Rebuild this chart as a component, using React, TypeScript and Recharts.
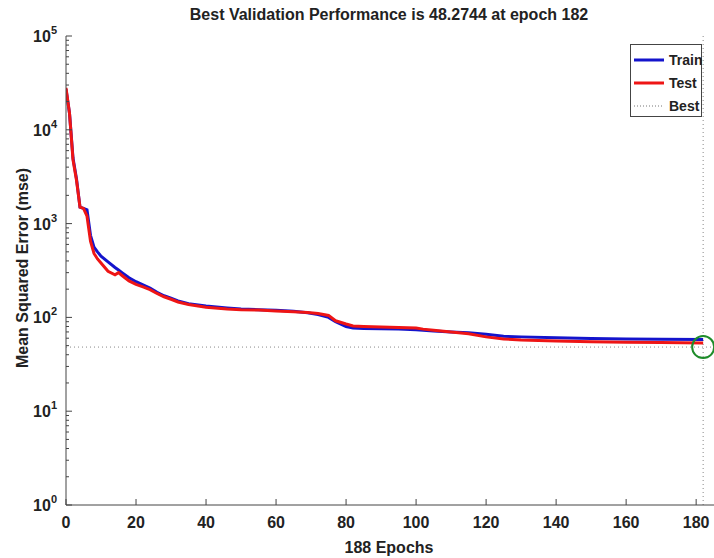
import {
  LineChart,
  Line,
  XAxis,
  YAxis,
  ReferenceLine,
  ReferenceDot,
  Label,
} from "recharts";

const epochs = [
  0, 1, 2, 3, 4, 5, 6, 7, 8, 9, 10, 12, 14, 15, 16, 18, 20, 22, 24, 26, 28, 30,
  32, 35, 40, 46, 50, 55, 60, 65, 69, 72, 75, 77, 80, 82, 85, 90, 95, 100, 102,
  105, 110, 115, 120, 125, 130, 140, 150, 160, 170, 182,
];

const trainMse = [
  27000, 15000, 5000, 3000, 1500, 1450, 1400, 750, 560, 500, 450, 390, 340, 320,
  300, 265, 240, 222, 205, 185, 170, 160, 150, 140, 132, 126, 123, 121, 119, 116,
  112, 107, 100, 90, 80, 77, 76, 75.5, 75, 74, 73, 71.5, 70, 68.5, 66, 63, 62,
  60.5, 59.5, 59, 58.5, 58,
];

const testMse = [
  28000, 15000, 4800, 2900, 1500, 1450, 1200, 650, 480, 420, 380, 310, 285, 300,
  280, 245, 225, 212, 198, 180, 166, 156, 146, 137, 128, 123, 121, 120, 117, 115,
  113, 110, 105, 92, 85, 81, 80, 79, 78, 77, 75, 73, 70, 67, 62, 59, 57.5, 56,
  55, 54.5, 54, 53.5,
];

const bestEpoch = 182;
const bestPerf = 48.2744;

const xTicks = [0, 20, 40, 60, 80, 100, 120, 140, 160, 180];
const yMajor = [1, 10, 100, 1000, 10000, 100000];
const yTicks = yMajor.flatMap((d) =>
  d === 100000 ? [d] : [1, 2, 3, 4, 5, 6, 7, 8, 9].map((m) => m * d)
);

const data = epochs.map((e, i) => ({
  epoch: e,
  train: trainMse[i],
  test: testMse[i],
}));

const font = "'Liberation Sans', Arial, sans-serif";

const YTick = (props: any) => {
  const { x, y, payload } = props;
  const v = payload.value;
  const major = yMajor.includes(v);
  const exp = Math.round(Math.log10(v));
  return (
    <g>
      <line x1={x} x2={x + (major ? 6 : 3)} y1={y} y2={y} stroke="#444" />
      {major && (
        <text
          x={x - 9}
          y={y + 6}
          textAnchor="end"
          fontFamily={font}
          fontWeight="bold"
          fontSize={16}
          fill="#222"
        >
          <tspan>10</tspan>
          <tspan dy={-8} fontSize={11}>
            {exp}
          </tspan>
        </text>
      )}
    </g>
  );
};

const XTick = (props: any) => {
  const { x, y, payload } = props;
  return (
    <g>
      <line x1={x} x2={x} y1={y} y2={y - 6} stroke="#444" />
      <text
        x={x}
        y={y + 23}
        textAnchor="middle"
        fontFamily={font}
        fontWeight="bold"
        fontSize={16}
        fill="#222"
      >
        {payload.value}
      </text>
    </g>
  );
};

const legendRows = [
  { name: "Train", color: "#1414cc", dash: "", w: 3 },
  { name: "Test", color: "#ee1515", dash: "", w: 3 },
  { name: "Best", color: "#777", dash: "1 2", w: 1 },
];

const LegendBox = () => (
  <div
    style={{
      position: "absolute",
      left: 630,
      top: 44,
      width: 72,
      height: 73,
      border: "1px solid #444",
      background: "#fff",
      boxSizing: "border-box",
      fontFamily: font,
      fontWeight: "bold",
      fontSize: 14,
      color: "#222",
      paddingTop: 3,
    }}
  >
    {legendRows.map((r) => (
      <div
        key={r.name}
        style={{ display: "flex", alignItems: "center", height: 23 }}
      >
        <svg width={34} height={10} style={{ marginLeft: 3, flex: "none" }}>
          <line
            x1={0}
            x2={30}
            y1={5}
            y2={5}
            stroke={r.color}
            strokeWidth={r.w}
            strokeDasharray={r.dash || undefined}
          />
        </svg>
        <span style={{ marginLeft: 1 }}>{r.name}</span>
      </div>
    ))}
  </div>
);

export default function App() {
  return (
    <div
      style={{
        position: "absolute",
        left: 0,
        top: 0,
        width: 714,
        height: 558,
        background: "#fff",
        overflow: "hidden",
      }}
    >
      <div
        style={{
          position: "absolute",
          left: 0,
          top: 6,
          width: 778,
          textAlign: "center",
          fontFamily: font,
          fontWeight: "bold",
          fontSize: 16,
          color: "#222",
        }}
      >
        Best Validation Performance is 48.2744 at epoch 182
      </div>
      <LineChart
        width={714}
        height={558}
        data={data}
        margin={{ top: 36, right: 0, bottom: 0, left: 0 }}
      >
        <XAxis
          dataKey="epoch"
          type="number"
          domain={[0, 185.1]}
          allowDataOverflow
          ticks={xTicks}
          interval={0}
          height={53}
          tickSize={0}
          tickMargin={0}
          tick={<XTick />}
          axisLine={{ stroke: "#444" }}
        >
          <Label
            content={() => (
              <text
                x={389}
                y={553}
                textAnchor="middle"
                fontFamily={font}
                fontWeight="bold"
                fontSize={16}
                fill="#222"
              >
                188 Epochs
              </text>
            )}
          />
        </XAxis>
        <YAxis
          type="number"
          scale="log"
          domain={[1, 100000]}
          allowDataOverflow
          ticks={yTicks}
          interval={0}
          width={66}
          tickSize={0}
          tickMargin={0}
          tick={<YTick />}
          axisLine={{ stroke: "#444" }}
        >
          <Label
            content={() => (
              <text
                x={28}
                y={268}
                transform="rotate(-90 28 268)"
                textAnchor="middle"
                fontFamily={font}
                fontWeight="bold"
                fontSize={16}
                fill="#222"
              >
                Mean Squared Error  (mse)
              </text>
            )}
          />
        </YAxis>
        <ReferenceLine y={bestPerf} stroke="#888" strokeDasharray="1 3" />
        <ReferenceLine x={bestEpoch} stroke="#888" strokeDasharray="1 3" />
        <Line
          type="linear"
          dataKey="train"
          stroke="#1414cc"
          strokeWidth={3}
          dot={false}
          isAnimationActive={false}
        />
        <Line
          type="linear"
          dataKey="test"
          stroke="#ee1515"
          strokeWidth={3}
          dot={false}
          isAnimationActive={false}
        />
        <ReferenceDot
          x={bestEpoch}
          y={bestPerf}
          r={11}
          fill="none"
          stroke="#1e8c2a"
          strokeWidth={2}
        />
      </LineChart>
      <LegendBox />
    </div>
  );
}
